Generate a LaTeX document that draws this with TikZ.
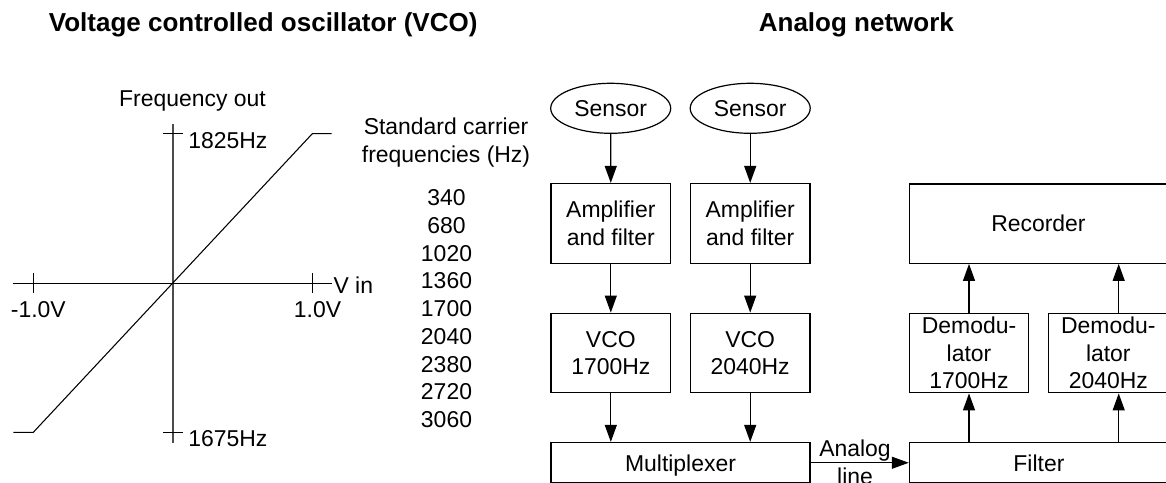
\documentclass[tikz,border=0pt]{standalone}
\usepackage{fontspec}
\setmainfont{Liberation Sans}
\usetikzlibrary{arrows.meta,shapes.geometric,calc}
\begin{document}
\begin{tikzpicture}[x=0.75pt,y=-0.75pt,
  txt/.style={inner sep=0pt, font=\fontsize{17.2pt}{20.8pt}\selectfont},
  ttl/.style={inner sep=0pt, font=\fontsize{19.5pt}{23pt}\selectfont\bfseries},
  blk/.style={draw, line width=0.9pt, inner sep=0pt, align=center, font=\fontsize{17.2pt}{20.8pt}\selectfont},
  sens/.style={blk, ellipse, minimum width=90pt, minimum height=37.5pt},
  colbox/.style={blk, minimum width=89.7pt, minimum height=59.7pt},
  widebox/.style={blk, minimum width=194.3pt, minimum height=30.4pt, text depth=0pt},
  arr/.style={line width=0.9pt, -{Triangle[length=12.75pt,width=9pt]}},
  ln/.style={line width=0.8pt},
  yaxis/.style={line width=1.4pt, black!70}
]
\useasboundingbox (0,0) rectangle (1166,482);
\clip (0,0) rectangle (1166,482);

% titles
\node[ttl, anchor=base west] (t1) at (48.6,31.3) {Voltage controlled oscillator (VCO)};
\node[ttl, anchor=base west] (t2) at (758.6,31.3) {Analog network};

% VCO characteristic
\draw[yaxis] (172.7,123.7) -- (172.7,442.7);
\draw[ln] (13.3,283.3) -- (331.7,283.3);
\draw[ln] (33.3,273.3) -- (33.3,293.3);
\draw[ln] (312.3,273.3) -- (312.3,293.3);
\draw[ln] (163,133.7) -- (182.5,133.7);
\draw[ln] (163,432.3) -- (182.5,432.3);
\draw[ln] (13.3,432.3) -- (33.3,432.3) -- (312.3,133.7) -- (331.7,133.7);

\node[txt, anchor=base] (fo) at (192.5,106.7) {Frequency out};
\node[txt, anchor=base west] (fhi) at (188,148.2) {1825Hz};
\node[txt, anchor=base west] (flo) at (188,446.5) {1675Hz};
\node[txt, anchor=base] (vneg) at (38.3,317.5) {-1.0V};
\node[txt, anchor=base] (vpos) at (317.5,317.3) {1.0V};
\node[txt, anchor=base west] (vin) at (333.3,293.2) {V in};

% carrier frequencies
\node[txt, anchor=base] (sc1) at (446,134.9) {Standard carrier};
\node[txt, anchor=base] (sc2) at (446,162.6) {frequencies (Hz)};
\foreach \f [count=\i from 0] in {340,680,1020,1360,1700,2040,2380,2720,3060}
  \node[txt, anchor=base] (n\i) at (446.5,205.5+27.75*\i) {\f};

% analog network
\node[sens] (sen1) at (610.7,108.3) {Sensor};
\node[sens] (sen2) at (750.2,108.3) {Sensor};
\node[colbox] (amp1) at (610.8,223.3) {Amplifier\\and filter};
\node[colbox] (amp2) at (750.2,223.3) {Amplifier\\and filter};
\node[colbox] (vco1) at (610.8,353) {VCO\\1700Hz};
\node[colbox] (vco2) at (750.2,353) {VCO\\2040Hz};
\node[widebox] (mux) at (680.5,462.75) {Multiplexer};
\node[widebox] (filt) at (1038.9,462.75) {Filter};
\node[blk, minimum width=193.7pt, minimum height=59.5pt] (rec) at (1038.4,223.6) {Recorder};
\node[colbox] (dem1) at (969,353) {Demodu-\\lator\\1700Hz};
\node[colbox] (dem2) at (1108.3,353) {Demodu-\\lator\\2040Hz};
\node[txt, anchor=north, align=center] (alab) at (855,440.1) {Analog\\line};

\coordinate (k2) at (1118.7,400);

\draw[arr] (sen1) -- (amp1);
\draw[arr] (sen2) -- (amp2);
\draw[arr] (amp1) -- (vco1);
\draw[arr] (amp2) -- (vco2);
\draw[arr] (vco1.south) -- (vco1.south |- mux.north);
\draw[arr] (vco2.south) -- (vco2.south |- mux.north);
\draw[arr] (mux.east) -- (filt.west);
\draw[arr] (dem1.south |- filt.north) -- (dem1.south);
\draw[arr] (filt.north -| k2) -- (dem2.south -| k2);
\draw[arr] (dem1.north) -- (dem1.north |- rec.south);
\draw[arr] (dem2.north -| k2) -- (rec.south -| k2);
\end{tikzpicture}
\end{document}
